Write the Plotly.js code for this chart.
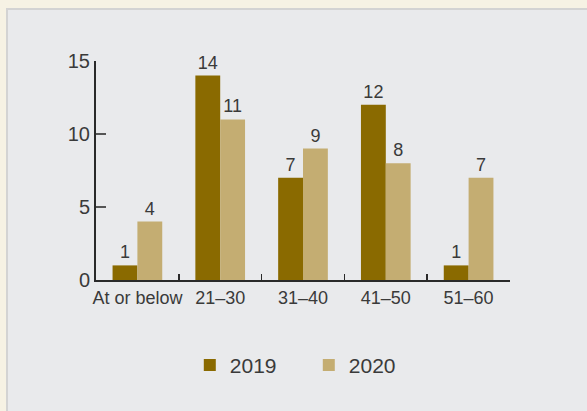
<!DOCTYPE html>
<html>
<head>
<meta charset="utf-8">
<script src="https://cdn.plot.ly/plotly-3.0.1.min.js"></script>
<style>
  html, body { margin: 0; padding: 0; background: #f6f2e4; width: 587px; height: 411px; overflow: hidden; }
  #chart { position: absolute; left: 6px; top: 8px; width: 579px; height: 401px;
           border-left: 2px solid #d3d3d3; border-top: 2px solid #d3d3d3; background: #e9eaec; }
</style>
</head>
<body>
<div id="chart"></div>
<script>
const categories = ["At or below", "21–30", "31–40", "41–50", "51–60"];
const values2019 = [1, 14, 7, 12, 1];
const values2020 = [4, 11, 9, 8, 7];
const seriesNames = ["2019", "2020"];
const yTicks = [0, 5, 10, 15];

const fontFam = "Liberation Sans, Arial, Helvetica, sans-serif";
const textColor = "#3a3a3a";

const traces = [
  { type: "bar", name: seriesNames[0], x: categories, y: values2019,
    text: values2019.map(String), textposition: "outside", cliponaxis: false, constraintext: "none",
    textfont: { family: fontFam, size: 18, color: textColor },
    marker: { color: "#8a6a00" }, hoverinfo: "none" },
  { type: "bar", name: seriesNames[1], x: categories, y: values2020,
    text: values2020.map(String), textposition: "outside", cliponaxis: false, constraintext: "none",
    textfont: { family: fontFam, size: 18, color: textColor },
    marker: { color: "#c4ad72" }, hoverinfo: "none" }
];

const layout = {
  width: 579, height: 401,
  margin: { l: 88, r: 77, t: 51, b: 131 },
  paper_bgcolor: "#e9eaec", plot_bgcolor: "#e9eaec",
  font: { family: fontFam, color: textColor },
  barmode: "group", bargap: 0.4, bargroupgap: 0,
  showlegend: true,
  legend: { orientation: "h", x: 0.514, xanchor: "center", y: -0.39, yanchor: "middle",
            font: { family: fontFam, size: 21, color: textColor },
            bgcolor: "rgba(0,0,0,0)", entrywidth: 74, traceorder: "normal" },
  xaxis: { type: "category", showline: true, linecolor: "#2a2a2a", linewidth: 2,
           ticks: "inside", tickson: "boundaries", ticklen: 6, tickcolor: "#2a2a2a", tickwidth: 1.5,
           tickangle: 0, tickfont: { family: fontFam, size: 18, color: textColor },
           showgrid: false, zeroline: false, fixedrange: true },
  yaxis: { range: [0, 15], tickvals: yTicks, ticktext: yTicks.map(String),
           showline: true, linecolor: "#2a2a2a", linewidth: 2,
           ticks: "inside", ticklen: 10, tickcolor: "#555", tickwidth: 1.5,
           ticklabelstandoff: 0,
           tickfont: { family: fontFam, size: 20, color: textColor },
           showgrid: false, zeroline: false, fixedrange: true }
};

Plotly.newPlot("chart", traces, layout, { displayModeBar: false, staticPlot: true });
</script>
</body>
</html>
